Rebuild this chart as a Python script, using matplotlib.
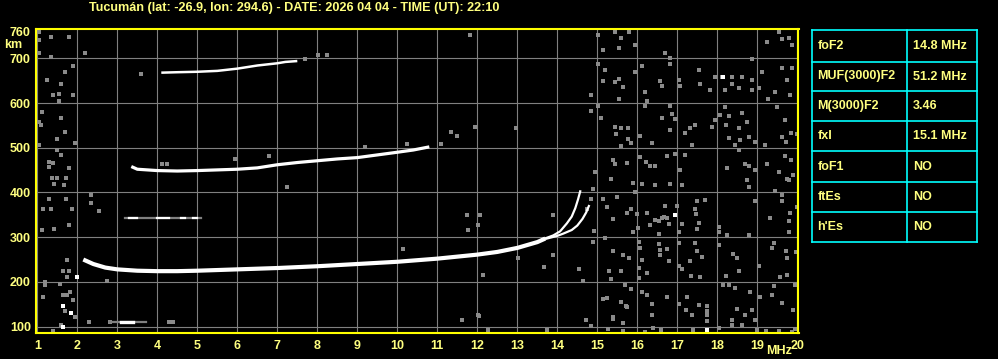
import matplotlib
matplotlib.use("Agg")
import matplotlib.pyplot as plt

# --- chart data -------------------------------------------------------------
title = "Tucumán (lat: -26.9, lon: 294.6) - DATE: 2026 04 04 - TIME (UT): 22:10"

x_ticks = list(range(1, 21))
y_ticks = [100, 200, 300, 400, 500, 600, 700, 760]

# F trace (1 hop), frequency MHz / virtual height km
f1_freq = [2.15, 2.4, 2.7, 3.0, 3.5, 4.0, 4.5, 5.0, 6.0, 7.0, 8.0, 9.0, 10.0,
           11.0, 12.0, 12.5, 13.0, 13.5, 13.7]
f1_height = [250, 240, 232, 228, 225, 224, 224, 225, 228, 231, 235, 240, 245,
             252, 261, 267, 276, 289, 297]
# the two branches near the critical frequency
fo_freq = [13.6, 13.9, 14.07, 14.24, 14.36, 14.45, 14.52, 14.58]
fo_height = [294, 304, 313, 331, 346, 365, 385, 405]
fx_freq = [13.7, 14.0, 14.15, 14.36, 14.5, 14.63, 14.72, 14.8]
fx_height = [296, 303, 308, 316, 326, 341, 355, 372]

# second and third hop
f2_freq = [3.35, 3.5, 4.0, 4.5, 5.0, 6.0, 6.5, 7.0, 7.5, 8.0, 8.5, 9.0, 9.5,
           10.0, 10.4, 10.8]
f2_height = [458, 452, 449, 448, 449, 452, 455, 462, 467, 471, 475, 478, 484,
             490, 495, 502]
f3_freq = [4.1, 4.5, 5.0, 5.5, 6.0, 6.5, 7.0, 7.2, 7.5]
f3_height = [668, 669, 670, 672, 677, 684, 689, 692, 694]

# weak traces (drawn grey with white pieces)
es_freq = [3.2, 5.1]
es_height = [342, 342]
es_white = [(3.3, 3.5), (4.0, 4.3), (4.6, 4.7), (4.9, 5.0)]
e_freq = [2.82, 3.73]
e_height = [110, 110]
e_white = [(3.1, 3.4)]

# grey speckle (MHz, km)
noise = [
    # left band
    (1.05, 758), (1.33, 748), (1.79, 748), (1.03, 742), (1.05, 711), (1.33, 704),
    (1.88, 683), (1.69, 670), (1.24, 651), (1.59, 642), (1.39, 618), (1.55, 620),
    (1.88, 618), (1.53, 605), (1.11, 581), (1.59, 567), (1.05, 558), (1.08, 551),
    (1.69, 536), (1.49, 519), (1.05, 506), (1.94, 510), (1.5, 495), (1.3, 469),
    (1.39, 467), (1.59, 484), (1.3, 456), (1.78, 454), (1.36, 432), (1.49, 432),
    (1.72, 432), (1.42, 419), (1.67, 417), (1.3, 385), (1.14, 362), (1.33, 362),
    (1.86, 362), (1.72, 385), (1.78, 327), (1.11, 316), (1.42, 318), (1.73, 248),
    (1.65, 225), (1.8, 225), (1.73, 212), (1.19, 193), (1.19, 200), (1.57, 195),
    (1.65, 170), (1.82, 178), (1.88, 159), (1.69, 134), (1.94, 122), (1.15, 167),
    (1.59, 104), (1.39, 91), (1.73, 170), (2.19, 711), (2.28, 111), (2.82, 111),
    (2.33, 394), (2.33, 377), (2.55, 359), (2.73, 203),
    # middle
    (3.58, 665), (4.13, 464), (4.23, 464), (5.94, 474), (6.8, 482), (7.23, 412),
    (7.69, 698), (8.03, 707), (8.24, 707), (9.19, 501), (10.24, 508), (11.1, 508),
    (11.34, 536), (11.49, 527), (11.94, 546), (11.83, 753), (12.97, 544),
    (4.3, 111), (4.4, 111), (10.14, 274), (11.63, 115), (12.03, 125), (12.28, 92),
    (11.74, 350), (12.07, 350), (12.02, 327), (11.77, 315), (13.02, 253),
    (13.67, 234), (13.88, 350), (13.89, 260), (12.14, 215), (14.54, 229),
    (14.63, 203), (12.04, 124), (14.73, 362), (13.74, 92), (14.72, 115),
    (14.84, 101),
    # right band
    (15.03, 752), (15.44, 758), (15.58, 746), (15.55, 724), (15.13, 719),
    (15.94, 731), (16.69, 711), (16.83, 701), (19.23, 737), (19.63, 743),
    (19.79, 746), (19.53, 758), (19.88, 730), (15.8, 758),
    (15.03, 687), (15.18, 674), (15.13, 649), (15.44, 648), (15.55, 654),
    (15.63, 637), (15.94, 670), (15.55, 610), (16.13, 684), (16.19, 625),
    (16.25, 604), (16.58, 649), (16.61, 639), (16.83, 687), (17.05, 651),
    (17.08, 639), (17.53, 674), (17.58, 642), (17.94, 659), (17.83, 629),
    (18.13, 659), (18.19, 629), (18.38, 659), (18.36, 642), (18.63, 659),
    (18.54, 633), (18.88, 651), (18.88, 629), (19.13, 670), (19.05, 633),
    (19.44, 625), (19.63, 679), (19.73, 651), (19.88, 678), (19.83, 619),
    (19.27, 610), (14.83, 618), (18.86, 699),
    (15.03, 594), (14.83, 582), (15.09, 566), (15.44, 547), (15.59, 545),
    (15.78, 545), (15.47, 530), (15.78, 519), (15.83, 510), (15.58, 504),
    (16.08, 527), (16.38, 510), (16.19, 594), (16.63, 566), (16.83, 594),
    (16.88, 575), (16.94, 564), (16.83, 540), (17.19, 532), (17.33, 545),
    (17.44, 552), (17.38, 506), (17.94, 562), (17.88, 547), (18.08, 573),
    (18.19, 591), (18.3, 571), (18.22, 550), (18.3, 522), (18.55, 545),
    (18.61, 577), (18.73, 557), (18.8, 525), (18.94, 512), (19.19, 507),
    (19.48, 591), (19.69, 562), (19.63, 525), (19.71, 512), (19.85, 532),
    (19.98, 530), (18.44, 507), (18.58, 517),
    (14.94, 445), (14.88, 408), (15.38, 472), (15.44, 463), (15.73, 467),
    (15.33, 430), (15.88, 422), (15.94, 401), (16.08, 480), (16.22, 469),
    (16.33, 460), (16.44, 460), (16.13, 420), (16.44, 416), (16.83, 418),
    (16.75, 482), (16.94, 485), (17.19, 483), (17.08, 450), (17.13, 416),
    (18.23, 455), (18.55, 495), (18.69, 463), (18.8, 460), (18.94, 450),
    (18.73, 428), (18.8, 413), (19.23, 463), (19.69, 482), (19.53, 446),
    (19.73, 431), (19.79, 428), (19.85, 472), (19.44, 403), (19.9, 438),
    (14.83, 385), (15.13, 385), (15.48, 390), (15.23, 368), (15.73, 355),
    (15.83, 363), (15.38, 340), (15.98, 351), (16.02, 321), (15.88, 311),
    (14.91, 314), (15.19, 299), (16.25, 353), (16.33, 327), (16.44, 338),
    (16.53, 336), (16.61, 342), (16.67, 345), (16.75, 343), (16.8, 330),
    (16.69, 370), (16.55, 307), (16.98, 369), (17.05, 312), (17.13, 330),
    (17.5, 380), (17.69, 383), (17.44, 362), (17.46, 351), (17.55, 332),
    (17.5, 319), (18.03, 322), (18.05, 312), (18.23, 304), (18.8, 304),
    (18.78, 305), (18.94, 381), (19.33, 343), (19.63, 394), (19.63, 381),
    (19.79, 336), (19.79, 312), (19.83, 353), (19.98, 368),
    (14.9, 290), (15.38, 269), (15.63, 260), (15.8, 254), (15.3, 224),
    (15.33, 206), (15.58, 224), (16.05, 290), (16.08, 276), (16.13, 249),
    (16.05, 230), (16.05, 209), (16.25, 219), (16.53, 284), (16.56, 271),
    (16.56, 260), (16.75, 273), (16.8, 246), (17.03, 286), (17.05, 236),
    (17.13, 228), (17.35, 213), (17.33, 246), (17.44, 286), (17.5, 269),
    (17.63, 256), (17.58, 211), (18.05, 282), (18.4, 263), (18.48, 254),
    (18.53, 224), (19.03, 236), (19.37, 275), (19.43, 286), (19.72, 269),
    (19.73, 254), (19.58, 211), (19.74, 215), (19.97, 266), (18.22, 213),
    (15.13, 161), (15.23, 164), (15.38, 118), (15.58, 155), (15.73, 144),
    (15.69, 193), (15.83, 184), (16.13, 178), (16.38, 150), (16.36, 127),
    (16.25, 170), (16.75, 166), (17.05, 150), (17.23, 166), (17.22, 137),
    (17.53, 148), (17.38, 125), (17.73, 125), (17.73, 135), (17.73, 145),
    (17.73, 112), (18.15, 193), (18.44, 187), (18.38, 114), (18.5, 140),
    (18.69, 127), (18.82, 178), (18.88, 137), (19.07, 166), (19.38, 170),
    (19.42, 191), (19.61, 153), (19.9, 137), (19.94, 193), (18.94, 114),
    (18.28, 194), (15.39, 122), (15.64, 107), (15.72, 145),
    (15.28, 95), (15.63, 90), (16.19, 87), (16.4, 97), (16.6, 92), (17.4, 92),
    (18.03, 97), (18.38, 104), (19.0, 92), (19.22, 90), (19.53, 90),
    (19.86, 88), (19.94, 95), (18.63, 104),
]
# a few bright isolated echoes
bright = [(2.0, 212), (1.63, 145), (1.83, 130), (1.63, 99), (18.15, 659),
          (16.95, 350), (17.75, 92)]

table_labels = ["foF2", "MUF(3000)F2", "M(3000)F2", "fxI", "foF1", "ftEs", "h'Es"]
table_values = ["14.8 MHz", "51.2 MHz", "3.46", "15.1 MHz", "NO", "NO", "NO"]

# --- drawing ----------------------------------------------------------------
W, H = 998, 359
yellow = "#ffff80"
grey = "#808080"
fs = 9
plt.rcParams["font.family"] = ["Liberation Sans", "DejaVu Sans"]
plt.rcParams["font.weight"] = "bold"

fig = plt.figure(figsize=(W / 100, H / 100), dpi=100, facecolor="black")
ax = fig.add_axes([35.7 / W, (H - 333.3) / H, 762.8 / W, 304 / H])
ax.set_facecolor("black")
ax.set_xlim(0.96, 20.03)
ax.set_ylim(85, 765)

for x in x_ticks:
    ax.axvline(x, color=grey, lw=0.8, zorder=1)
for y in y_ticks[:-1]:
    ax.axhline(y, color=grey, lw=0.8, zorder=1)

nf = [p[0] for p in noise]
nh = [p[1] for p in noise]
ax.plot(nf, nh, ls="none", marker="s", ms=2.2, mew=0, color="#8a8a8a", zorder=2)
ax.plot([p[0] for p in bright], [p[1] for p in bright], ls="none", marker="s",
        ms=2.2, mew=0, color="white", zorder=2)

# weak traces
ax.plot(es_freq, es_height, color=grey, lw=1.6, zorder=3)
for a, b in es_white:
    ax.plot([a, b], [es_height[0], es_height[0]], color="white", lw=1.6, zorder=3)
ax.plot(e_freq, e_height, color=grey, lw=1.6, zorder=3)
for a, b in e_white:
    ax.plot([a, b], [e_height[0], e_height[0]], color="white", lw=2.4, zorder=3)

# F traces
ax.plot(f1_freq, f1_height, color="white", lw=3.0, zorder=4, solid_capstyle="butt")
ax.plot(fo_freq, fo_height, color="white", lw=1.6, zorder=4, solid_capstyle="butt")
ax.plot(fx_freq, fx_height, color="white", lw=1.6, zorder=4, solid_capstyle="butt")
ax.plot(f2_freq, f2_height, color="white", lw=2.3, zorder=4, solid_capstyle="butt")
ax.plot(f3_freq, f3_height, color="white", lw=1.8, zorder=4, solid_capstyle="butt")

for s in ax.spines.values():
    s.set_color("#ffff00")
    s.set_linewidth(1.5)
ax.set_xticks(x_ticks)
ax.set_yticks(y_ticks)
ax.tick_params(length=0, colors=yellow, labelsize=fs)
ax.tick_params(axis="x", pad=4.5)
ax.tick_params(axis="y", pad=3.5)
for t in ax.get_xticklabels() + ax.get_yticklabels():
    t.set_fontweight("bold")

fig.text(294 / W, 1 - 7.5 / H, title, color=yellow, fontsize=9.1,
         fontweight="bold", ha="center", va="center")
fig.text(13.5 / W, 1 - 45.5 / H, "km", color=yellow, fontsize=fs,
         fontweight="bold", ha="center", va="center")
fig.text(779 / W, 1 - 351.5 / H, "MHz", color=yellow, fontsize=fs,
         fontweight="bold", ha="center", va="center")

# parameter table, drawn in pixel coordinates
tab = fig.add_axes([0, 0, 1, 1])
tab.set_xlim(0, W)
tab.set_ylim(H, 0)
tab.axis("off")
tab.patch.set_alpha(0)
row_edges = [30.3, 61.7, 91.3, 121.3, 151.3, 182.3, 212.3, 242]
cyan = "#00ffff"
for y in row_edges:
    tab.plot([812.3, 977.3], [y, y], color=cyan, lw=1.2)
for x in [812.3, 907.3, 977.3]:
    tab.plot([x, x], [row_edges[0], row_edges[-1]], color=cyan, lw=1.2)
for i, (lab, val) in enumerate(zip(table_labels, table_values)):
    yc = (row_edges[i] + row_edges[i + 1]) / 2
    tab.text(817.5, yc, lab, color=yellow, fontsize=fs, fontweight="bold",
             ha="left", va="center")
    tab.text(913, yc, val, color=yellow, fontsize=fs, fontweight="bold",
             ha="left", va="center")

fig.savefig("out.png", dpi=100, facecolor="black")
